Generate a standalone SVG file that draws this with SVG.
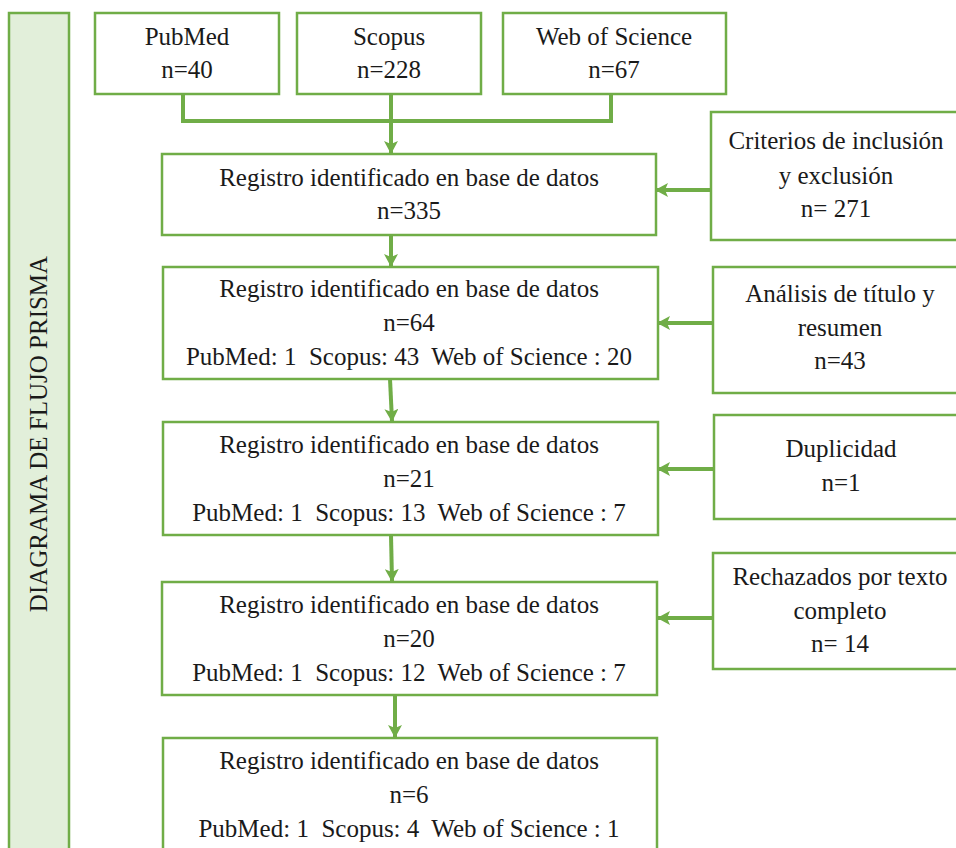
<svg xmlns="http://www.w3.org/2000/svg" width="956" height="848" viewBox="0 0 956 848">
<style>
.box{fill:#fff;stroke:#70ad47;stroke-width:2.5}
.bar{fill:#e2efda;stroke:#70ad47;stroke-width:2.5}
.t{font-family:"Liberation Serif","Times New Roman",serif;font-size:25px;fill:#1a1a1a;text-anchor:middle;white-space:pre}
.c{fill:none;stroke:#70ad47;stroke-width:4}
</style>
<defs>
<marker id="ah" markerUnits="userSpaceOnUse" markerWidth="14" markerHeight="14" refX="12" refY="7" orient="auto">
<path d="M0,0 L13,7 L0,14 L3,7 Z" fill="#70ad47"/>
</marker>
</defs>
<rect width="956" height="848" fill="#fff"/>
<g id="side">
<rect class="bar" x="9" y="13" width="60" height="850"/>
<text class="t" transform="translate(47,434) rotate(-90)">DIAGRAMA DE FLUJO PRISMA</text>
</g>
<g id="connectors">
<polyline class="c" points="183,94 183,121 611,121 611,94"/>
<line class="c" x1="391" y1="94" x2="391" y2="153" marker-end="url(#ah)"/>
<line class="c" x1="391" y1="235" x2="391" y2="266" marker-end="url(#ah)"/>
<line class="c" x1="390" y1="379" x2="392" y2="421" marker-end="url(#ah)"/>
<line class="c" x1="391" y1="535" x2="392" y2="581" marker-end="url(#ah)"/>
<line class="c" x1="395" y1="695" x2="395" y2="737" marker-end="url(#ah)"/>
<line class="c" x1="711" y1="190" x2="656" y2="190" marker-end="url(#ah)"/>
<line class="c" x1="713" y1="323" x2="658" y2="323" marker-end="url(#ah)"/>
<line class="c" x1="714" y1="469" x2="658" y2="469" marker-end="url(#ah)"/>
<line class="c" x1="713" y1="618" x2="658" y2="618" marker-end="url(#ah)"/>
</g>
<g id="pubmed">
<rect class="box" x="95" y="13" width="184" height="81"/>
<text class="t" x="187" y="45">PubMed</text>
<text class="t" x="187" y="78">n=40</text>
</g>
<g id="scopus">
<rect class="box" x="297" y="13" width="184" height="81"/>
<text class="t" x="389" y="45">Scopus</text>
<text class="t" x="389" y="78">n=228</text>
</g>
<g id="wos">
<rect class="box" x="503" y="13" width="223" height="81"/>
<text class="t" x="614" y="45">Web of Science</text>
<text class="t" x="614" y="78">n=67</text>
</g>
<g id="reg1">
<rect class="box" x="162" y="154" width="494" height="81"/>
<text class="t" x="409" y="186">Registro identificado en base de datos</text>
<text class="t" x="409" y="219">n=335</text>
</g>
<g id="criterios">
<rect class="box" x="711" y="112" width="252" height="128"/>
<text class="t" x="836" y="149">Criterios de inclusión</text>
<text class="t" x="836" y="184">y exclusión</text>
<text class="t" x="836" y="217">n= 271</text>
</g>
<g id="reg2">
<rect class="box" x="163" y="267" width="495" height="112"/>
<text class="t" x="409" y="297">Registro identificado en base de datos</text>
<text class="t" x="409" y="331">n=64</text>
<text class="t" x="409" y="365">PubMed: 1  Scopus: 43  Web of Science : 20</text>
</g>
<g id="analisis">
<rect class="box" x="713" y="267" width="260" height="126"/>
<text class="t" x="840" y="302">Análisis de título y</text>
<text class="t" x="840" y="336">resumen</text>
<text class="t" x="840" y="369">n=43</text>
</g>
<g id="reg3">
<rect class="box" x="163" y="422" width="495" height="113"/>
<text class="t" x="409" y="453">Registro identificado en base de datos</text>
<text class="t" x="409" y="487">n=21</text>
<text class="t" x="409" y="521">PubMed: 1  Scopus: 13  Web of Science : 7</text>
</g>
<g id="duplicidad">
<rect class="box" x="714" y="415" width="260" height="104"/>
<text class="t" x="841" y="457">Duplicidad</text>
<text class="t" x="841" y="491">n=1</text>
</g>
<g id="reg4">
<rect class="box" x="162" y="582" width="495" height="113"/>
<text class="t" x="409" y="613">Registro identificado en base de datos</text>
<text class="t" x="409" y="647">n=20</text>
<text class="t" x="409" y="681">PubMed: 1  Scopus: 12  Web of Science : 7</text>
</g>
<g id="rechazados">
<rect class="box" x="713" y="553" width="260" height="116"/>
<text class="t" x="840" y="585">Rechazados por texto</text>
<text class="t" x="840" y="619">completo</text>
<text class="t" x="840" y="652">n= 14</text>
</g>
<g id="reg5">
<rect class="box" x="163" y="738" width="494" height="130"/>
<text class="t" x="409" y="769">Registro identificado en base de datos</text>
<text class="t" x="409" y="803">n=6</text>
<text class="t" x="409" y="837">PubMed: 1  Scopus: 4  Web of Science : 1</text>
</g>
</svg>
